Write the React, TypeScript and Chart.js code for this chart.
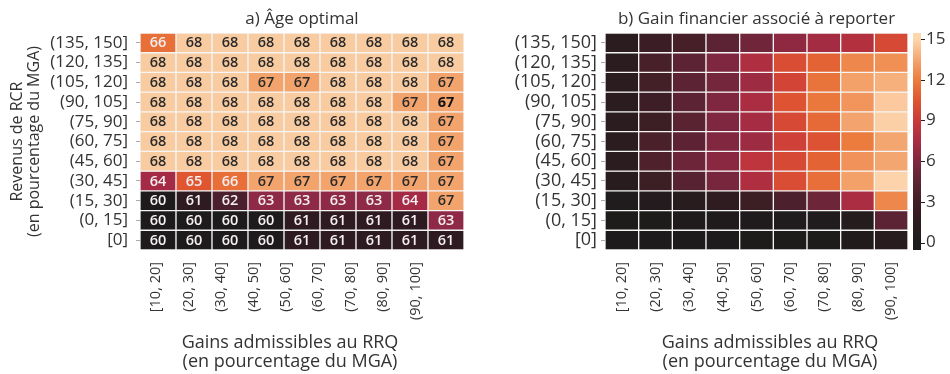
import React, { useEffect, useRef } from 'react';
import { Chart, registerables } from 'chart.js';

Chart.register(...registerables);

// ---------- data ----------
const colLabels = ['[10, 20]', '(20, 30]', '(30, 40]', '(40, 50]', '(50, 60]', '(60, 70]', '(70, 80]', '(80, 90]', '(90, 100]'];
const ageTickLabels = [...colLabels, ''];
const rowLabels = ['(135, 150]', '(120, 135]', '(105, 120]', '(90, 105]', '(75, 90]', '(60, 75]', '(45, 60]', '(30, 45]', '(15, 30]', '(0, 15]', '[0]'];

// rows listed top to bottom
const ageOptimal: number[][] = [
  [66, 68, 68, 68, 68, 68, 68, 68, 68],
  [68, 68, 68, 68, 68, 68, 68, 68, 68],
  [68, 68, 68, 67, 67, 68, 68, 68, 67],
  [68, 68, 68, 68, 68, 68, 68, 67, 67],
  [68, 68, 68, 68, 68, 68, 68, 68, 67],
  [68, 68, 68, 68, 68, 68, 68, 68, 67],
  [68, 68, 68, 68, 68, 68, 68, 68, 67],
  [64, 65, 66, 67, 67, 67, 67, 67, 67],
  [60, 61, 62, 63, 63, 63, 63, 64, 67],
  [60, 60, 60, 60, 61, 61, 61, 61, 63],
  [60, 60, 60, 60, 61, 61, 61, 61, 61],
];
const boldCells: [number, number][] = [[3, 8]];

const gainFinancier: number[][] = [
  [1.5, 2.7, 3.4, 4.5, 5.4, 6.6, 7.3, 8.0, 9.8],
  [1.5, 3.5, 4.5, 6.0, 7.8, 10.0, 11.0, 12.4, 12.7],
  [1.5, 3.2, 4.5, 5.5, 7.1, 9.6, 11.7, 13.3, 13.8],
  [1.5, 2.9, 4.5, 6.0, 7.6, 10.4, 11.8, 12.9, 14.6],
  [1.5, 2.8, 4.4, 6.0, 7.4, 9.8, 11.3, 13.4, 14.8],
  [1.5, 3.6, 4.6, 6.1, 7.1, 9.4, 10.3, 12.0, 13.5],
  [1.5, 3.8, 5.2, 6.4, 8.5, 9.8, 11.0, 12.8, 13.5],
  [1.4, 2.8, 4.3, 5.7, 7.8, 10.0, 11.5, 13.3, 14.9],
  [0.3, 0.7, 1.3, 1.8, 2.8, 3.7, 5.2, 7.6, 12.4],
  [0.1, 0.1, 0.2, 0.2, 0.2, 0.3, 0.3, 0.8, 4.5],
  [0.0, 0.0, 0.0, 0.0, 0.1, 0.1, 0.1, 0.5, 1.3],
];
const colorbarTicks = [0, 3, 6, 9, 12, 15];

// ---------- styles ----------
const FONT = '"Open Sans", "Noto Sans", sans-serif';
const TEXT = '#333333';
const GAIN_MAX = 15;
const cmapStops: [number, string][] = [
  [0, '#1d1b1b'], [0.1, '#2a1c1f'], [0.2, '#3f1e26'], [0.3, '#5b2333'], [0.4, '#7f2740'],
  [0.5, '#a82c42'], [0.6, '#c93a3a'], [0.7, '#df5631'], [0.8, '#ec7c3e'], [0.9, '#f4a670'], [1, '#fdd6ae'],
];
const ageColors: Record<number, string> = {
  60: '#1e1b1c', 61: '#2e1b22', 62: '#4c1f2e', 63: '#8e2a48', 64: '#a52a45',
  65: '#df5630', 66: '#e96f38', 67: '#f3a46c', 68: '#f9cba0',
};

function hexToRgb(h: string) {
  const n = parseInt(h.slice(1), 16);
  return [(n >> 16) & 255, (n >> 8) & 255, n & 255];
}
function cmap(t: number) {
  t = Math.max(0, Math.min(1, t));
  for (let i = 1; i < cmapStops.length; i++) {
    const [t1, c1] = cmapStops[i];
    const [t0, c0] = cmapStops[i - 1];
    if (t <= t1) {
      const f = (t - t0) / (t1 - t0);
      const a = hexToRgb(c0), b = hexToRgb(c1);
      const r = a.map((v, k) => Math.round(v + (b[k] - v) * f));
      return `rgb(${r[0]},${r[1]},${r[2]})`;
    }
  }
  return cmapStops[cmapStops.length - 1][1];
}
const gainColor = (v: number) => cmap(v / GAIN_MAX);
const ageColor = (v: number) => ageColors[v] || '#888';

const nRows = rowLabels.length;

function cellDatasets(values: number[][], colorFn: (v: number) => string) {
  return rowLabels.map((lab, r) => ({
    label: lab,
    data: colLabels.map(() => [nRows - 1 - r, nRows - r]),
    backgroundColor: values[r].map(colorFn),
    borderColor: '#f5f5f5',
    borderWidth: 1,
    borderSkipped: false as const,
    grouped: false,
    barPercentage: 1,
    categoryPercentage: 1,
  }));
}

const titlePlugin = (text: string, size: number) => ({
  id: 'panelTitle',
  afterDraw(chart: any) {
    const { ctx, chartArea } = chart;
    ctx.save();
    ctx.font = `${size}px ${FONT}`;
    ctx.fillStyle = TEXT;
    ctx.textAlign = 'center';
    ctx.textBaseline = 'middle';
    ctx.fillText(text, (chartArea.left + chartArea.right) / 2, 19);
    ctx.restore();
  },
});

const xTitlePlugin = (lines: string[], cx: number) => ({
  id: 'xTitle',
  afterDraw(chart: any) {
    const { ctx } = chart;
    ctx.save();
    ctx.font = `18px ${FONT}`;
    ctx.fillStyle = TEXT;
    ctx.textAlign = 'center';
    ctx.textBaseline = 'middle';
    lines.forEach((l, i) => ctx.fillText(l, cx, 343 + i * 19));
    ctx.restore();
  },
});

const cellTextPlugin = {
  id: 'cellText',
  afterDatasetsDraw(chart: any) {
    const { ctx } = chart;
    ctx.save();
    ctx.textAlign = 'center';
    ctx.textBaseline = 'middle';
    chart.data.datasets.forEach((_: any, r: number) => {
      const meta = chart.getDatasetMeta(r);
      meta.data.forEach((el: any, c: number) => {
        const v = ageOptimal[r][c];
        const bold = boldCells.some(([br, bc]) => br === r && bc === c);
        const { x, y, base } = el.getProps(['x', 'y', 'base'], true);
        ctx.font = `${bold ? 700 : 600} 14.5px ${FONT}`;
        ctx.fillStyle = bold ? '#111111' : v <= 66 ? '#f5eff1' : '#2a2a2a';
        ctx.fillText(String(v), x, (y + base) / 2 + 0.5);
      });
    });
    ctx.restore();
  },
};

const colorbarPlugin = {
  id: 'colorbar',
  afterDraw(chart: any) {
    const s = chart.scales.yCb;
    const { ctx } = chart;
    const x0 = s.left + 5;
    const w = 8;
    ctx.save();
    for (let py = Math.floor(s.top); py < Math.ceil(s.bottom); py++) {
      const v = s.getValueForPixel(py + 0.5);
      ctx.fillStyle = gainColor(v);
      ctx.fillRect(x0, py, w, 1);
    }
    ctx.strokeStyle = '#222';
    ctx.lineWidth = 1;
    colorbarTicks.forEach((t) => {
      const py = Math.round(s.getPixelForValue(t)) + 0.5;
      ctx.beginPath();
      ctx.moveTo(x0 + w, py);
      ctx.lineTo(x0 + w + 4, py);
      ctx.stroke();
    });
    ctx.restore();
  },
};

const xTickOpts = {
  autoSkip: false,
  minRotation: 90,
  maxRotation: 90,
  padding: 4,
  color: TEXT,
  font: { size: 14.5, family: FONT },
};

function yLabAxis(width: number, padding: number, size: number, title: any) {
  return {
    type: 'category',
    labels: rowLabels,
    position: 'left',
    offset: true,
    grid: { display: true, drawOnChartArea: false, offset: false, drawTicks: true, tickLength: 4, color: '#aaaaaa' },
    border: { display: false },
    ticks: { color: TEXT, padding, autoSkip: false, font: { size, family: FONT, lineHeight: 1 } },
    title,
    afterFit: (s: any) => { s.width = width; },
  };
}

export default function App() {
  const leftRef = useRef<HTMLCanvasElement>(null);
  const rightRef = useRef<HTMLCanvasElement>(null);

  useEffect(() => {
    document.body.style.margin = '0';
    const left = new Chart(leftRef.current!, {
      type: 'bar',
      data: { labels: colLabels, datasets: cellDatasets(ageOptimal, ageColor) as any },
      options: {
        animation: false,
        responsive: false,
        layout: { padding: { top: 33, right: 16, left: 0, bottom: 0 } },
        plugins: { legend: { display: false }, tooltip: { enabled: false } },
        scales: {
          x: { type: 'category', labels: colLabels, display: false, offset: true },
          xLab: {
            type: 'category', labels: ageTickLabels, position: 'bottom', offset: true,
            grid: { display: false }, border: { display: false }, ticks: xTickOpts,
            afterFit: (s: any) => { s.height = 124; },
          },
          y: { type: 'linear', min: 0, max: nRows, display: false },
          yLab: yLabAxis(140, 8, 17, {
            display: true,
            text: ['Revenus de RCR', '(en pourcentage du MGA)'],
            color: TEXT,
            font: { size: 16, family: FONT, lineHeight: 1.05 },
            padding: { top: 9, bottom: 0 },
          }),
        } as any,
      },
      plugins: [titlePlugin('a) Âge optimal', 17), xTitlePlugin(['Gains admissibles au RRQ', '(en pourcentage du MGA)'], 290), cellTextPlugin],
    });

    const right = new Chart(rightRef.current!, {
      type: 'bar',
      data: { labels: colLabels, datasets: cellDatasets(gainFinancier, gainColor) as any },
      options: {
        animation: false,
        responsive: false,
        layout: { padding: { top: 33, right: 0, left: 0, bottom: 0 } },
        plugins: { legend: { display: false }, tooltip: { enabled: false } },
        scales: {
          x: {
            type: 'category', labels: colLabels, offset: true,
            grid: { display: false }, border: { display: false }, ticks: xTickOpts,
            afterFit: (s: any) => { s.height = 124; },
          },
          y: { type: 'linear', min: 0, max: nRows, display: false },
          yLab: yLabAxis(125, 4, 18, { display: false }),
          yCb: {
            type: 'linear', position: 'right', min: -0.55, max: 15.45,
            grid: { display: false, drawTicks: false }, border: { display: false },
            ticks: { color: TEXT, padding: 18, font: { size: 17, family: FONT } },
            afterBuildTicks: (s: any) => { s.ticks = colorbarTicks.map((v) => ({ value: v })); },
            afterFit: (s: any) => { s.width = 42; },
          },
        } as any,
      },
      plugins: [titlePlugin('b) Gain financier associé à reporter', 17), xTitlePlugin(['Gains admissibles au RRQ', '(en pourcentage du MGA)'], 290), colorbarPlugin],
    });

    return () => {
      left.destroy();
      right.destroy();
    };
  }, []);

  return (
    <div style={{ position: 'relative', width: 950, height: 374, background: '#fff' }}>
      <canvas ref={leftRef} width={480} height={374} style={{ position: 'absolute', left: 0, top: 0 }} />
      <canvas ref={rightRef} width={470} height={374} style={{ position: 'absolute', left: 480, top: 0 }} />
    </div>
  );
}
